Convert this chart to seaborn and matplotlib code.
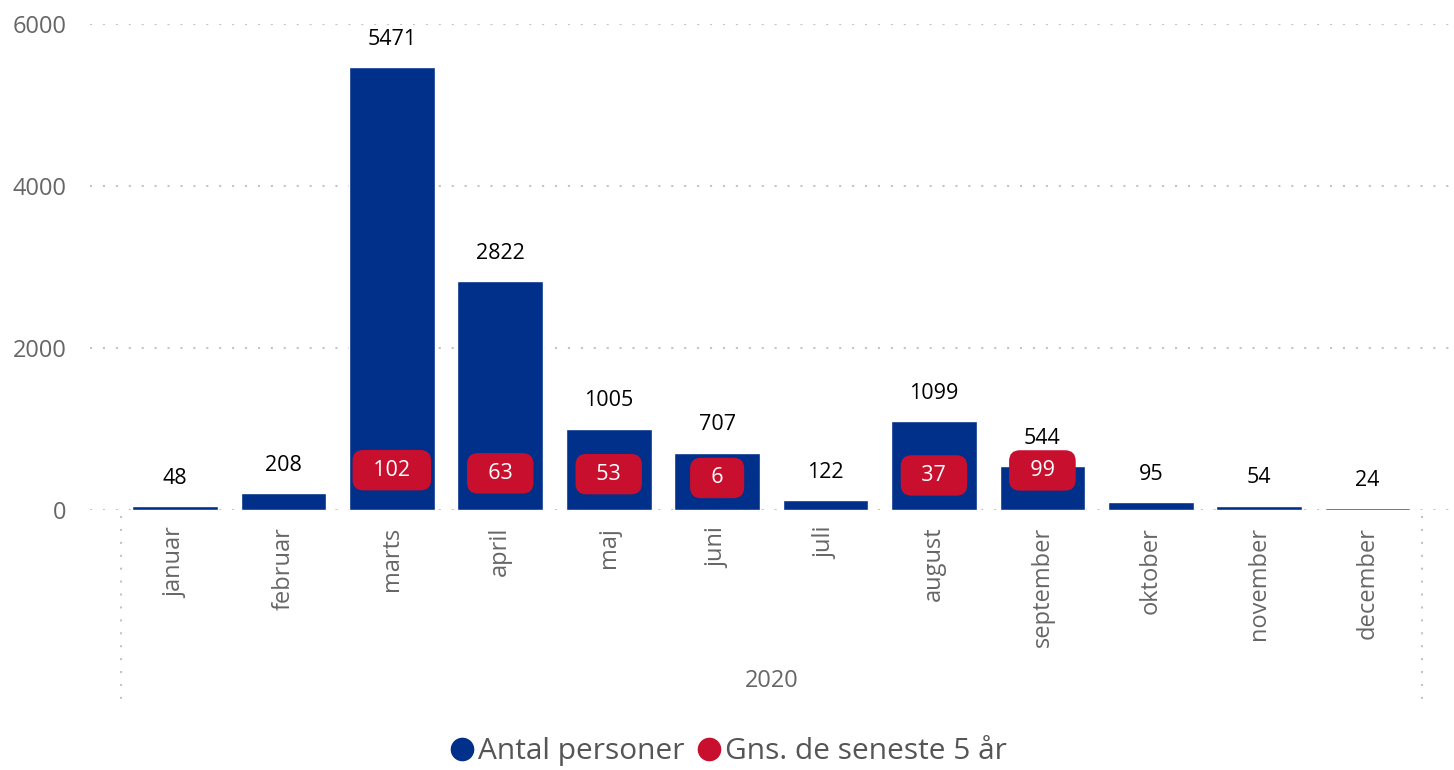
import matplotlib
matplotlib.use("Agg")
import numpy as np
import pandas as pd
import matplotlib.pyplot as plt
from matplotlib.lines import Line2D
import seaborn as sns

# chart data
months = ["januar", "februar", "marts", "april", "maj", "juni", "juli",
          "august", "september", "oktober", "november", "december"]
antal_personer = [48, 208, 5471, 2822, 1005, 707, 122, 1099, 544, 95, 54, 24]
gns_5_aar = [np.nan, np.nan, 102, 63, 53, 6, np.nan, 37, 99, np.nan, np.nan, np.nan]
year_label = "2020"
y_ticks = [0, 2000, 4000, 6000]

blue = "#00308A"
red = "#C8102E"
grey = "#666666"

sns.set_style("white")
plt.rcParams["font.family"] = ["Open Sans", "DejaVu Sans"]

df = pd.DataFrame({"month": months, "antal": antal_personer, "gns": gns_5_aar})

fig = plt.figure(figsize=(14.54, 7.7), dpi=100)
ax = fig.add_axes([0.0619, 0.3377, 0.9354, 0.6312])

sns.barplot(data=df, x="month", y="antal", order=months, color=blue,
            saturation=1, width=0.79, ax=ax, zorder=2)

ax.set_xlim(-0.784, 11.76)
ax.set_ylim(0, 6000)
ax.set_yticks(y_ticks)
ax.set_yticklabels([str(t) for t in y_ticks], fontsize=17, color=grey)
ax.tick_params(axis="y", length=0, pad=17)
ax.tick_params(axis="x", length=0, pad=12)
ax.set_xticks(range(len(months)))
ax.set_xticklabels(months, rotation=90, fontsize=17, color=grey, va="top", ha="center")
ax.set_xlabel("")
ax.set_ylabel("")
for s in ax.spines.values():
    s.set_visible(False)

# dotted gridlines
for t in y_ticks:
    ax.axhline(t, color="#c4c4c4", lw=1.5, linestyle=(0, (1, 5.2)), zorder=1)

# value labels above bars
for i, v in enumerate(antal_personer):
    ax.annotate(str(v), (i, v), xytext=(0, 20), textcoords="offset points",
                ha="center", va="center", fontsize=15.5, color="black", zorder=4)

# 5-year average labels (red rounded boxes)
for i, v in enumerate(gns_5_aar):
    if np.isnan(v):
        continue
    ax.annotate(f"  {int(v)}  ", (i, v), xytext=(0, 24.5), textcoords="offset points",
                ha="center", va="center_baseline", fontsize=15.5, color="white", zorder=5,
                bbox=dict(boxstyle="round,pad=0.45,rounding_size=0.5", fc=red, ec="none"))

# hierarchy separators and year label
trans = ax.get_xaxis_transform()
for xb in [-0.5, len(months) - 0.5]:
    ax.plot([xb, xb], [-0.012, -0.392], transform=trans, clip_on=False,
            color="#c4c4c4", lw=1.5, linestyle=(0, (1, 5.2)))
ax.text((len(months) - 1) / 2, -0.352, year_label, transform=trans,
        ha="center", va="center", fontsize=17, color=grey)

# legend
handles = [Line2D([], [], marker="o", linestyle="", markersize=16, color=blue),
           Line2D([], [], marker="o", linestyle="", markersize=16, color=red)]
leg = fig.legend(handles, ["Antal personer", "Gns. de seneste 5 år"],
                 loc="lower center", bbox_to_anchor=(0.5, -0.03), ncol=2,
                 frameon=False, fontsize=21.5, handletextpad=0.05,
                 columnspacing=0.3, handlelength=1.0)
for txt in leg.get_texts():
    txt.set_color("#555555")

fig.savefig("out.png", dpi=100)
